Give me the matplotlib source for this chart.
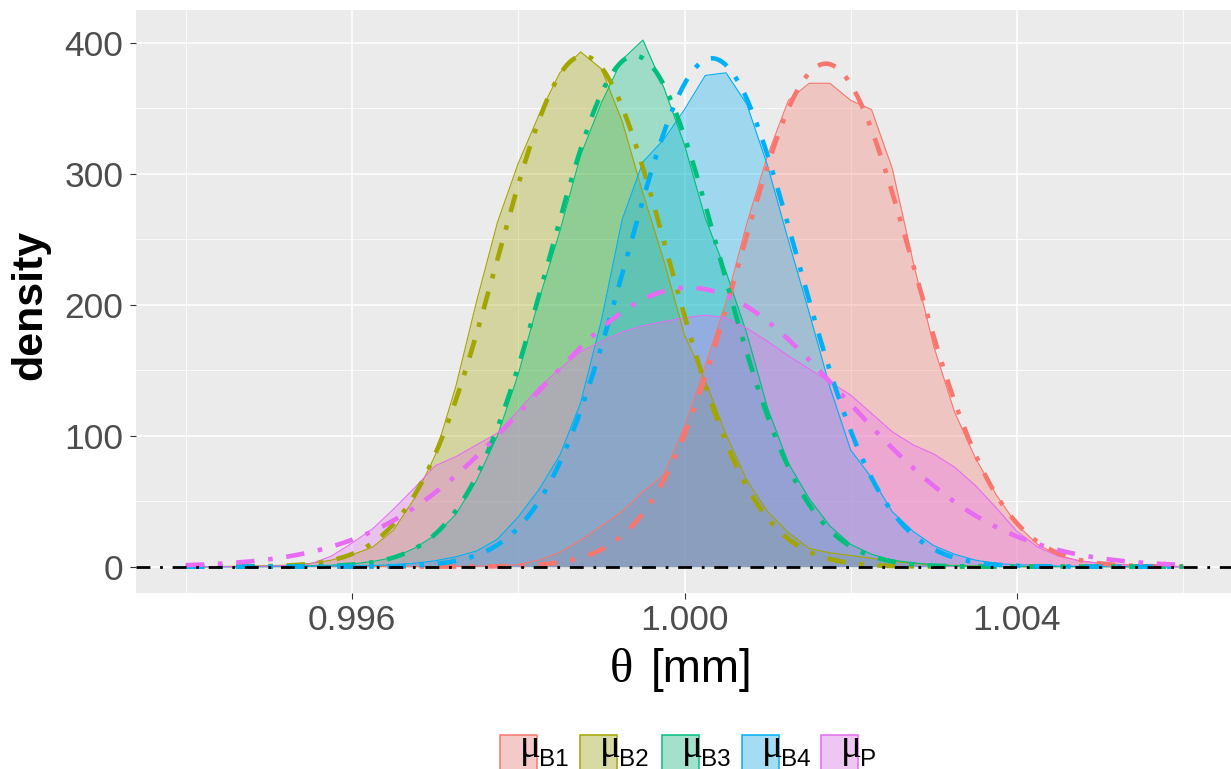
import numpy as np
import matplotlib
matplotlib.use("Agg")
import matplotlib.pyplot as plt
from matplotlib.patches import Rectangle

plt.rcParams["font.family"] = ["Liberation Sans", "DejaVu Sans"]

# theta grid (mm) on which the posterior density estimates are tabulated
theta = np.linspace(0.994, 1.006, 49)

dens_B1 = [0, 0, 0, 0, 0, 0, 0, 0, 0, 0, 0, 0, 0.1, 0.2, 0.4, 0.8,
           1.5, 5, 11, 20, 31, 42, 57, 70, 107, 153, 202, 262, 314, 356,
           369, 369, 356, 349, 304, 233, 168, 118, 83, 55, 32, 17, 8.5,
           4.5, 2.6, 1.8, 1.0, 0.5, 0.2]
dens_B2 = [0, 0, 0.2, 0.5, 0.8, 1.2, 2.5, 5, 9, 15, 28, 52, 85, 138, 203,
           263, 308, 345, 377, 393, 380, 340, 285, 234, 177, 142, 101, 66,
           42, 26, 14, 10.5, 8.5, 6.5, 4, 2.5, 1.5, 1, 0.5, 0.2, 0, 0, 0,
           0, 0, 0, 0, 0, 0]
dens_B3 = [0, 0, 0, 0, 0.2, 0.4, 0.7, 1.2, 2, 4, 7, 14, 24, 40, 66, 100,
           147, 204, 256, 314, 354, 387, 402, 366, 322, 266, 225, 178, 121,
           79, 52, 31, 17, 9.5, 5, 3, 1.5, 0.8, 0.4, 0.2, 0, 0, 0, 0, 0, 0,
           0, 0, 0]
dens_B4 = [0, 0, 0, 0, 0, 0.2, 0.3, 0.5, 0.6, 0.8, 1.5, 2.6, 4.5, 7.5, 12,
           21, 38, 59, 85, 125, 188, 265, 309, 326, 349, 375, 377, 353, 306,
           249, 194, 137, 89, 68, 42, 27, 16, 9.5, 5, 2.4, 1.5, 0.9, 0.5,
           0.3, 0.2, 0, 0, 0, 0]
dens_P = [0, 0, 0, 0.2, 0.4, 0.9, 2, 8, 18, 29, 44, 60, 77, 84, 93, 102,
          119, 137, 151, 164, 172, 179, 184, 187, 190, 192, 190, 182, 172,
          161, 151, 141, 131, 117, 103, 93, 86, 76, 62, 45, 27, 15, 8, 4.5,
          2.5, 1.3, 0.6, 0.3, 0]

groups = ["B1", "B2", "B3", "B4", "P"]
densities = [dens_B1, dens_B2, dens_B3, dens_B4, dens_P]
colors = ["#F8766D", "#A3A500", "#00BF7D", "#00B0F6", "#E76BF3"]

# fitted normal approximations (mean, sd) drawn as dot-dash curves
norm_mean = [1.00170, 0.99878, 0.99940, 1.00033, 1.00005]
norm_sd = [0.001039, 0.001023, 0.001023, 0.001028, 0.001873]

x_major = [0.996, 1.000, 1.004]
x_major_labels = ["0.996", "1.000", "1.004"]
x_minor = [0.994, 0.998, 1.002, 1.006]
y_major = [0, 100, 200, 300, 400]
y_minor = [50, 150, 250, 350]

W, H = 1231, 769
fig = plt.figure(figsize=(W / 100, H / 100), dpi=100)
fig.patch.set_facecolor("white")

ax_left, ax_right, ax_top, ax_bottom = 136, 1233, 9.6, 593.2
ax = fig.add_axes([ax_left / W, 1 - ax_bottom / H,
                   (ax_right - ax_left) / W, (ax_bottom - ax_top) / H])
ax.set_facecolor("#EBEBEB")
for s in ax.spines.values():
    s.set_visible(False)

ax.set_xlim(0.9934, 1.0066)
ax.set_ylim(-20.25, 425.25)
ax.set_xticks(x_major)
ax.set_xticklabels(x_major_labels)
ax.set_xticks(x_minor, minor=True)
ax.set_yticks(y_major)
ax.set_yticks(y_minor, minor=True)
ax.grid(which="major", color="white", lw=1.1)
ax.grid(which="minor", color="white", lw=0.55)
ax.set_axisbelow(True)
ax.tick_params(which="major", length=4.5, width=0.8, color="#333333",
               labelcolor="#4D4D4D", labelsize=25.5)
ax.tick_params(axis="x", which="major", pad=3)
ax.tick_params(axis="y", which="major", pad=4.5)
ax.tick_params(which="minor", length=0)

# filled density estimates
for d, c in zip(densities, colors):
    ax.fill_between(theta, 0, d, color=c, alpha=0.32, lw=0, zorder=2)
    ax.plot(theta, d, color=c, lw=0.8, zorder=3)

# normal approximations
theta_fine = np.linspace(0.994, 1.006, 601)
for m, s, c in zip(norm_mean, norm_sd, colors):
    pdf = np.exp(-0.5 * ((theta_fine - m) / s) ** 2) / (s * np.sqrt(2 * np.pi))
    ax.plot(theta_fine, pdf, color=c, lw=3.3, dashes=(4, 3, 1, 3), zorder=4)

ax.axhline(0, color="black", lw=2.0, dashes=(5, 3.5, 1, 3.5), zorder=5)

# axis titles
fig.text(30 / W, 1 - 305 / H, "density", rotation=90, ha="center",
         va="center", fontsize=31, fontweight="bold", color="black")
fig.text(610 / W, 1 - 682 / H, "\u03b8", ha="left", va="baseline",
         fontsize=35, family=["Liberation Serif", "DejaVu Serif"])
fig.text(651 / W, 1 - 682 / H, "[mm]", ha="left", va="baseline", fontsize=33)

# legend
key_left = [500, 580, 662, 742, 821]
key_top, key_size = 735, 37
for kl, c, g in zip(key_left, colors, groups):
    fig.add_artist(Rectangle((kl / W, 1 - (key_top + key_size) / H),
                             key_size / W, key_size / H,
                             transform=fig.transFigure, facecolor="#F2F2F2",
                             edgecolor="none"))
    fig.add_artist(Rectangle((kl / W, 1 - (key_top + key_size) / H),
                             key_size / W, key_size / H,
                             transform=fig.transFigure, facecolor=c,
                             alpha=0.32, edgecolor="none"))
    fig.add_artist(Rectangle((kl / W, 1 - (key_top + key_size) / H),
                             key_size / W, key_size / H,
                             transform=fig.transFigure, facecolor="none",
                             edgecolor=c, lw=1.1))
    fig.text((kl + 20) / W, 1 - 757 / H, "\u03bc", ha="left", va="baseline",
             fontsize=28, family=["Liberation Serif", "DejaVu Serif"])
    fig.text((kl + 39) / W, 1 - 766 / H, g, ha="left", va="baseline",
             fontsize=17.5)

fig.savefig("out.png", dpi=100)
